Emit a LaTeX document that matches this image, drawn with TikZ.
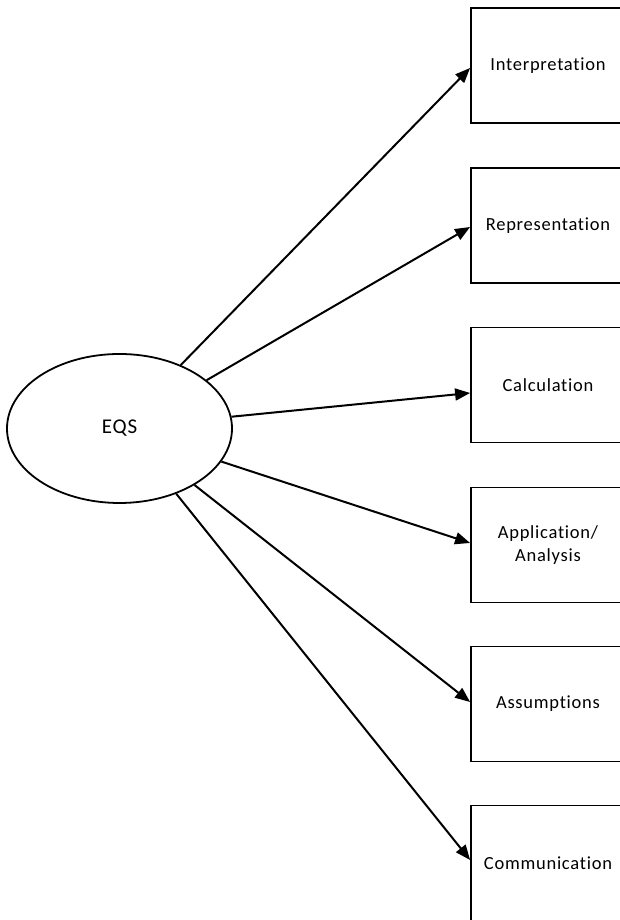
\documentclass[tikz,border=0pt]{standalone}
\usepackage{fontspec}
\setmainfont[Ligatures=NoCommon,LetterSpace=4]{Carlito}
\usetikzlibrary{arrows.meta,shapes.geometric}
\begin{document}
\begin{tikzpicture}[x=1pt,y=1pt,
  box/.style={draw,line width=1.8pt,fill=white,minimum width=154pt,minimum height=115pt,inner sep=0pt,align=center,font=\fontsize{18.5}{23}\selectfont},
  oval/.style={ellipse,draw,line width=1.8pt,fill=white,minimum width=225pt,minimum height=149pt,inner sep=0pt,font=\fontsize{21}{25}\selectfont},
  link/.style={line width=2pt,-{Triangle[length=15pt,width=12pt]}}]
\useasboundingbox (0,0) rectangle (620,920);
\clip (0,0) rectangle (620,920);
\node[oval] (e) at (119.5,491.5) {EQS};
\node[box] (b1) at (548,854.5) {Interpretation};
\node[box] (b2) at (548,694.5) {Representation};
\node[box] (b3) at (548,535) {Calculation};
\node[box] (b4) at (548,375) {Application/\\Analysis};
\node[box] (b5) at (548,216) {Assumptions};
\node[box] (b6) at (548,57) {Communication};
\draw[link] (e.46.4) -- ([yshift=-2.5pt]b1.west);
\draw[link] (e.29.5) -- ([yshift=-1.5pt]b2.west);
\draw[link] (e.6.3) -- ([yshift=-8pt]b3.west);
\draw[link] (e.-18.1) -- ([yshift=2pt]b4.west);
\draw[link] (e.-37.5) -- ([yshift=2pt]b5.west);
\draw[link] (e.-49.8) -- ([yshift=3pt]b6.west);
\end{tikzpicture}
\end{document}
